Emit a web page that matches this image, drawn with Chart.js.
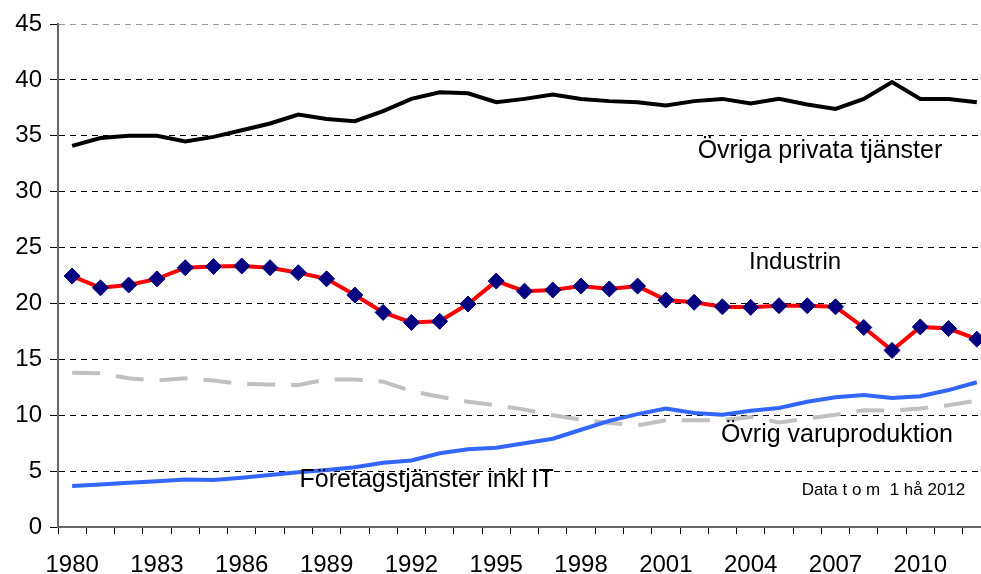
<!DOCTYPE html>
<html>
<head>
<meta charset="utf-8">
<script src="https://cdn.jsdelivr.net/npm/chart.js@4"></script>
<style>
  body { margin: 0; overflow: hidden; background: #fff; }
  #wrap { width: 1000px; height: 574px; }
</style>
</head>
<body>
<div id="wrap"><canvas id="myChart" width="1000" height="574"></canvas></div>
<script>
const years = [];
for (let y = 1980; y <= 2012; y++) years.push(String(y));

const ovrigaPrivata = [34.1, 34.8, 35.0, 35.0, 34.5, 34.9, 35.5, 36.1, 36.9, 36.5, 36.3, 37.2, 38.3, 38.9, 38.8, 38.0, 38.3,
  38.7, 38.3, 38.1, 38.0, 37.7, 38.1, 38.3, 37.9, 38.3, 37.8, 37.4, 38.3, 39.8, 38.3, 38.3, 38.0];
const industrin = [22.45, 21.4, 21.65, 22.2, 23.2, 23.3, 23.35, 23.2, 22.75, 22.2, 20.75, 19.2, 18.3, 18.4, 19.95, 22.0, 21.1,
  21.2, 21.55, 21.3, 21.55, 20.3, 20.1, 19.7, 19.65, 19.8, 19.8, 19.7, 17.85, 15.8, 17.9, 17.75, 16.8];
const ovrigVaru = [13.8, 13.75, 13.3, 13.1, 13.3, 13.1, 12.8, 12.75, 12.7, 13.2, 13.2, 13.0, 12.15, 11.65, 11.2, 10.9, 10.5,
  10.0, 9.6, 9.3, 9.1, 9.55, 9.55, 9.55, 9.85, 9.35, 9.7, 10.05, 10.45, 10.4, 10.6, 10.9, 11.3];
const foretagstjanster = [3.67, 3.8, 3.95, 4.1, 4.25, 4.2, 4.4, 4.65, 4.9, 5.1, 5.35, 5.75, 5.95, 6.6, 6.95, 7.1, 7.5,
  7.9, 8.7, 9.5, 10.1, 10.6, 10.2, 10.05, 10.4, 10.65, 11.2, 11.6, 11.8, 11.55, 11.7, 12.25, 12.95];
const yTicks = [0, 5, 10, 15, 20, 25, 30, 35, 40, 45];

// text labels placed in data coordinates (year, value)
const notes = [
  { text: 'Övriga privata tjänster', year: 2006.45, value: 33.6, size: 25 },
  { text: 'Industrin', year: 2005.57, value: 23.7, size: 24 },
  { text: 'Övrig varuproduktion', year: 2007.05, value: 8.23, size: 25 },
  { text: 'Företagstjänster inkl IT', year: 1992.54, value: 4.2, size: 25 },
  { text: 'Data t o m  1 hå 2012', year: 2008.7, value: 3.3, size: 17 }
];

const notesPlugin = {
  id: 'notes',
  afterDatasetsDraw(chart) {
    const ctx = chart.ctx;
    const x = chart.scales.x, y = chart.scales.y;
    const x0 = x.getPixelForValue(0);
    const step = x.getPixelForValue(1) - x0;
    ctx.save();
    ctx.fillStyle = '#000';
    ctx.textAlign = 'center';
    ctx.textBaseline = 'middle';
    notes.forEach(n => {
      ctx.font = n.size + 'px "Liberation Sans", Arial, sans-serif';
      ctx.fillText(n.text, x0 + (n.year - 1980) * step, y.getPixelForValue(n.value));
    });
    ctx.restore();
  }
};

const ctx = document.getElementById('myChart');
new Chart(ctx, {
  type: 'line',
  data: {
    labels: years,
    datasets: [{
      label: 'Industrin',
      data: industrin,
      borderColor: '#ff0000',
      borderWidth: 4,
      pointStyle: 'rectRot',
      pointRadius: 8,
      pointBackgroundColor: '#000080',
      pointBorderColor: '#000080',
      pointBorderWidth: 1,
      order: 0
    }, {
      label: 'Övriga privata tjänster',
      data: ovrigaPrivata,
      borderColor: '#000',
      borderWidth: 4,
      pointRadius: 0,
      order: 1
    }, {
      label: 'Företagstjänster inkl IT',
      data: foretagstjanster,
      borderColor: '#3366ff',
      borderWidth: 4,
      pointRadius: 0,
      order: 2
    }, {
      label: 'Övrig varuproduktion',
      data: ovrigVaru,
      borderColor: '#c0c0c0',
      borderWidth: 4,
      borderDash: [28, 16],
      pointRadius: 0,
      order: 3
    }]
  },
  options: {
    responsive: false,
    animation: false,
    devicePixelRatio: 1,
    layout: { padding: { top: 24, right: 7, left: 0, bottom: 0 } },
    plugins: { legend: { display: false }, tooltip: { enabled: false } },
    elements: { line: { tension: 0 } },
    scales: {
      x: {
        offset: true,
        grid: { offset: true, drawOnChartArea: false, tickLength: 7, tickColor: '#000', color: '#000' },
        border: { color: '#666', width: 2 },
        ticks: {
          autoSkip: false, maxRotation: 0, color: '#000', padding: 17,
          font: { family: '"Liberation Sans", Arial, sans-serif', size: 24 },
          callback: (v, i) => (i % 3 === 0 ? years[i] : '')
        },
        afterFit: s => { s.height = 47; }
      },
      y: {
        min: 0, max: 45,
        afterBuildTicks: s => { s.ticks = yTicks.map(v => ({ value: v })); },
        grid: { color: c => (c.tick && c.tick.value === 45 ? '#999' : '#000'), lineWidth: 1, tickLength: 8, tickColor: '#000' },
        border: { color: '#666', width: 2, dash: [6, 5] },
        ticks: {
          color: '#000', padding: 8,
          font: { family: '"Liberation Sans", Arial, sans-serif', size: 24 }
        },
        afterFit: s => { s.width = 58; }
      }
    }
  },
  plugins: [notesPlugin]
});
</script>
</body>
</html>
